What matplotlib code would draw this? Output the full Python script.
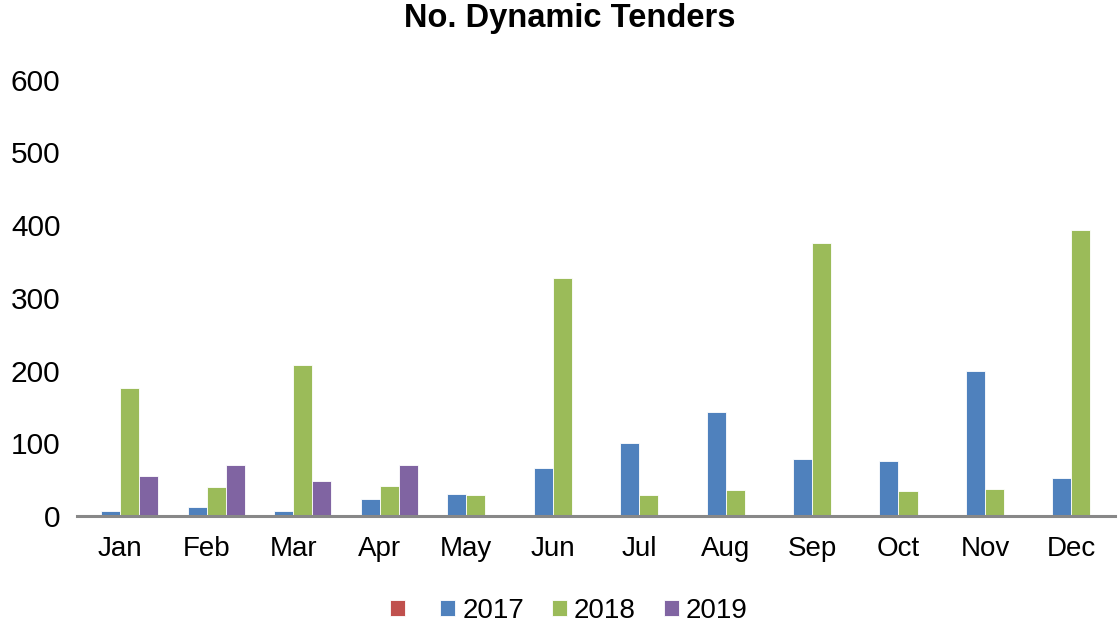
import matplotlib.pyplot as plt
import numpy as np

plt.rcParams['font.family'] = ['Liberation Sans', 'DejaVu Sans']

months = ['Jan', 'Feb', 'Mar', 'Apr', 'May', 'Jun', 'Jul', 'Aug', 'Sep', 'Oct', 'Nov', 'Dec']
series_names = ['', '2017', '2018', '2019']
blank = [0, 0, 0, 0, 0, 0, 0, 0, 0, 0, 0, 0]
y2017 = [7, 12, 7, 24, 31, 66, 101, 143, 79, 76, 200, 53]
y2018 = [176, 40, 208, 42, 29, 327, 29, 36, 375, 35, 38, 393]
y2019 = [55, 70, 48, 70, 0, 0, 0, 0, 0, 0, 0, 0]
colors = ['#c0504d', '#4f81bd', '#9bbb59', '#8064a2']
yticks = [0, 100, 200, 300, 400, 500, 600]

fig = plt.figure(figsize=(11.18, 6.28), dpi=100)
ax = fig.add_axes([0.069, 0.178, 0.928, 0.695])

x = np.arange(len(months))
w = 0.22
handles = []
for i, (vals, c) in enumerate(zip([blank, y2017, y2018, y2019], colors)):
    b = ax.bar(x + (i - 1.5) * w, vals, width=w, color=c,
               edgecolor='white', linewidth=0.6)
    handles.append(b)

ax.set_xlim(-0.5, len(months) - 0.5)
ax.set_ylim(0, 600)
ax.set_yticks(yticks)
ax.set_xticks(x)
ax.set_xticklabels(months)
ax.tick_params(axis='both', length=0, labelsize=20)
ax.tick_params(axis='x', pad=14)
ax.tick_params(axis='y', pad=12, labelsize=21.5)
for s in ['top', 'right', 'left']:
    ax.spines[s].set_visible(False)
ax.spines['bottom'].set_color('#888888')
ax.spines['bottom'].set_linewidth(2.2)

fig.text(570 / 1118, 1 - 19 / 628, 'No. Dynamic Tenders', fontsize=23.5,
         fontweight='bold', ha='center', va='center')

ax.legend(handles, series_names, loc='upper center', bbox_to_anchor=(0.474, -0.13),
          ncol=4, frameon=False, fontsize=20, handlelength=0.55, handleheight=0.55,
          handletextpad=0.25, columnspacing=1.0)

fig.savefig('out.png', dpi=100)
